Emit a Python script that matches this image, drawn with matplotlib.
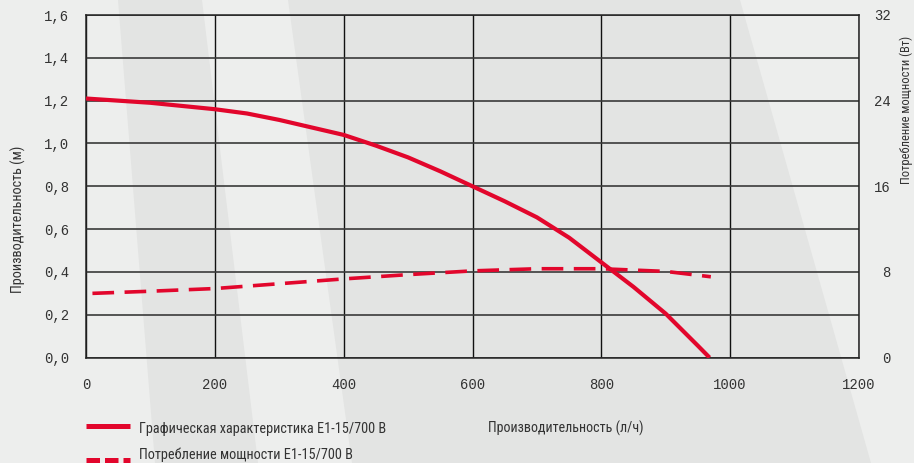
import matplotlib
matplotlib.use("Agg")
import matplotlib.pyplot as plt
from matplotlib.patches import Polygon
from matplotlib.lines import Line2D

# Pump curve (head, m) versus flow (l/h)
flow_head = [0, 50, 100, 150, 200, 250, 300, 350, 400, 450, 500, 550, 600, 650, 700, 750, 800, 850, 900, 950, 968]
head_m = [1.21, 1.20, 1.19, 1.175, 1.16, 1.14, 1.11, 1.075, 1.04, 0.99, 0.935, 0.87, 0.80, 0.73, 0.655, 0.56, 0.445, 0.33, 0.205, 0.055, 0.0]

# Power consumption (W) versus flow (l/h)
flow_power = [10, 100, 200, 300, 400, 500, 600, 700, 800, 900, 970]
power_w = [6.0, 6.2, 6.45, 6.9, 7.35, 7.75, 8.1, 8.3, 8.3, 8.05, 7.55]

x_ticks = [0, 200, 400, 600, 800, 1000, 1200]
x_tick_labels = ["0", "200", "400", "600", "800", "1000", "1200"]
y_ticks = [0.0, 0.2, 0.4, 0.6, 0.8, 1.0, 1.2, 1.4, 1.6]
y_tick_labels = ["0,0", "0,2", "0,4", "0,6", "0,8", "1,0", "1,2", "1,4", "1,6"]
y2_ticks = [0, 8, 16, 24, 32]
y2_tick_labels = ["0", "8", "16", "24", "32"]

label_head = "Графическая характеристика E1-15/700 В"
label_power = "Потребление мощности E1-15/700 В"
xlabel = "Производительность (л/ч)"
ylabel = "Производительность (м)"
y2label = "Потребление мощности (Вт)"

W, H = 914, 463
RED = "#E2062C"
TEXT = "#333333"
NARROW = ["Roboto Condensed", "Open Sans Condensed", "DejaVu Sans Condensed", "Roboto"]
MONO = ["Liberation Mono", "DejaVu Sans Mono"]
TICK_SIZE = 10

fig = plt.figure(figsize=(W / 100, H / 100), dpi=100, facecolor="#EDEEED")


def px(x, y):
    return (x / W, 1 - y / H)


def label(x, y, s, size, **kw):
    return fig.text(*px(x, y), s, family=NARROW, fontstretch="condensed",
                    fontsize=size, color=TEXT, **kw)


# Diagonal background bands
dark = "#E3E4E3"
for pts in ([(118, 0), (202, 0), (258, 463), (155, 463)],
            [(288, 0), (740, 0), (871, 463), (352, 463)]):
    fig.patches.append(Polygon([px(*p) for p in pts], closed=True,
                               transform=fig.transFigure, facecolor=dark,
                               edgecolor="none", zorder=-5))

left, right, top, bottom = 86, 859, 15, 357.6
ax = fig.add_axes([left / W, 1 - bottom / H, (right - left) / W, (bottom - top) / H])
ax.set_facecolor("none")
ax.set_xlim(0, 1200)
ax.set_ylim(0, 1.6)
ax.set_xticks(x_ticks)
ax.set_xticklabels(x_tick_labels, family=MONO, fontsize=TICK_SIZE, color=TEXT)
ax.set_yticks(y_ticks)
ax.set_yticklabels(y_tick_labels, family=MONO, fontsize=TICK_SIZE, color=TEXT)
ax.tick_params(axis="both", length=0)
ax.tick_params(axis="y", pad=12)
ax.tick_params(axis="x", pad=15)
ax.grid(True, axis="x", color="#111111", linewidth=1.0)
ax.grid(True, axis="y", color="#3a3a3a", linewidth=1.2)
for s in ax.spines.values():
    s.set_color("#222222")
    s.set_linewidth(1.1)

ax2 = ax.twinx()
ax2.set_ylim(0, 32)
ax2.set_yticks(y2_ticks)
ax2.set_yticklabels(y2_tick_labels, family=MONO, fontsize=TICK_SIZE, color=TEXT)
for t in ax2.get_yticklabels():
    t.set_horizontalalignment("right")
ax2.tick_params(axis="y", length=0, pad=23)
for s in ax2.spines.values():
    s.set_visible(False)

ax2.plot(flow_power, power_w, color=RED, linewidth=2.6, linestyle=(0, (6.0, 2.9)),
         solid_capstyle="butt", dash_capstyle="butt", dash_joinstyle="round")
ax2.plot(flow_head, [h * 20 for h in head_m], color=RED, linewidth=3.0,
         solid_capstyle="butt", solid_joinstyle="round")

# Axis titles
label(18, 219, ylabel, 10.3, rotation=90, ha="center", va="center")
label(906, 110, y2label, 9.0, rotation=90, ha="center", va="center")
label(488, 433, xlabel, 10.1, ha="left", va="baseline")

# Legend
fig.add_artist(Line2D([86 / W, 130 / W], [1 - 426 / H, 1 - 426 / H],
                      transform=fig.transFigure, color=RED, linewidth=3.6,
                      solid_capstyle="butt"))
fig.add_artist(Line2D([86 / W, 130 / W], [1 - 459.5 / H, 1 - 459.5 / H],
                      transform=fig.transFigure, color=RED, linewidth=3.6,
                      linestyle=(0, (2.7, 1.0)), dash_capstyle="butt"))
label(139, 433, label_head, 10.3, ha="left", va="baseline")
label(139, 459, label_power, 10.3, ha="left", va="baseline")

fig.savefig("out.png", dpi=100, facecolor=fig.get_facecolor())
